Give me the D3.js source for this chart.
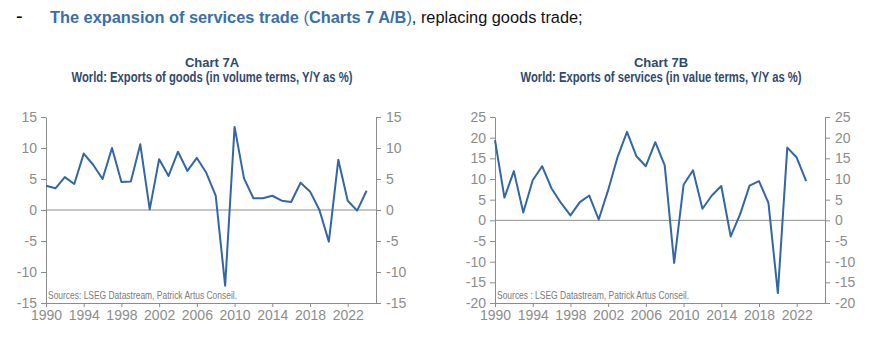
<!DOCTYPE html>
<html>
<head>
<meta charset="utf-8">
<script type="text/javascript" src="https://cdn.jsdelivr.net/npm/d3@7"></script>
<style>
body {
  margin: 0;
  background: white;
}
text {
  font-family: "Liberation Sans Narrow", "Arial Narrow", "Liberation Sans", sans-serif;
}
.axis path, .axis line {
  stroke: #8c8c8c;
}
.axis text {
  fill: #8c8c8c;
  font-size: 14px;
}
</style>
</head>
<body>
<svg width="884" height="346"></svg>
<script>
// chart 7A: exports of goods, volume, y/y %
var yearsA = [1990, 1991, 1992, 1993, 1994, 1995, 1996, 1997, 1998, 1999,
              2000, 2001, 2002, 2003, 2004, 2005, 2006, 2007, 2008, 2009,
              2010, 2011, 2012, 2013, 2014, 2015, 2016, 2017, 2018, 2019,
              2020, 2021, 2022, 2023, 2024];
var goods = [3.9, 3.5, 5.3, 4.2, 9.1, 7.3, 5.0, 10.0, 4.5, 4.6,
             10.6, 0.1, 8.2, 5.5, 9.4, 6.3, 8.4, 6.0, 2.3, -12.2,
             13.4, 5.1, 1.9, 1.9, 2.3, 1.5, 1.3, 4.4, 3.0, 0.0,
             -5.1, 8.1, 1.5, -0.1, 3.1];

// chart 7B: exports of services, value, y/y %
var yearsB = [1990, 1991, 1992, 1993, 1994, 1995, 1996, 1997, 1998, 1999,
              2000, 2001, 2002, 2003, 2004, 2005, 2006, 2007, 2008, 2009,
              2010, 2011, 2012, 2013, 2014, 2015, 2016, 2017, 2018, 2019,
              2020, 2021, 2022, 2023];
var services = [19.4, 5.5, 11.9, 1.9, 9.7, 13.1, 7.7, 4.2, 1.2, 4.4,
                6.0, 0.2, 7.3, 15.3, 21.4, 15.5, 13.1, 18.9, 13.3, -10.3,
                8.6, 12.1, 2.8, 6.0, 8.3, -3.9, 1.5, 8.4, 9.5, 4.2,
                -17.6, 17.6, 15.2, 9.5];

var xTicks = [1990, 1994, 1998, 2002, 2006, 2010, 2014, 2018, 2022];
var yTicksA = [-15, -10, -5, 0, 5, 10, 15];
var yTicksB = [-20, -15, -10, -5, 0, 5, 10, 15, 20, 25];

var svg = d3.select("svg");
// plain hyphen for negatives, like the source chart
var fmt = function(d) { return String(d); };

// header line
svg.append("text")
  .attr("x", 16).attr("y", 23)
  .style("font-size", "20px")
  .text("-");
var head = svg.append("text")
  .attr("x", 50).attr("y", 23)
  .style("font-size", "20px");
head.append("tspan").attr("fill", "#3a6ead").attr("font-weight", "bold")
  .text("The expansion of services trade ");
head.append("tspan").attr("fill", "#3a6ead").text("(");
head.append("tspan").attr("fill", "#3a6ead").attr("font-weight", "bold")
  .text("Charts 7 A/B");
head.append("tspan").attr("fill", "#3a6ead").text(")");
head.append("tspan").attr("fill", "#111").text(", replacing goods trade;");
// size the header so it spans the same width as the original
var headLen = head.node().getComputedTextLength();
head.style("font-size", (20 * 533 / headLen) + "px");

function drawChart(opt) {
  var x = d3.scaleLinear().domain([1990, 2025]).range([opt.left, opt.left + 330]);
  var y = d3.scaleLinear().domain(opt.yDomain).range([303, 117]);
  var cx = opt.left + 166;

  svg.append("text")
    .attr("x", cx).attr("y", 67)
    .attr("text-anchor", "middle")
    .attr("fill", "#2f4a6e")
    .attr("font-weight", "bold")
    .style("font-size", "13px")
    .text(opt.title);
  svg.append("text")
    .attr("x", cx).attr("y", 82)
    .attr("text-anchor", "middle")
    .attr("fill", "#2f4a6e")
    .attr("font-weight", "bold")
    .attr("textLength", 281)
    .attr("lengthAdjust", "spacingAndGlyphs")
    .style("font-size", "14px")
    .text(opt.subtitle);

  // zero line
  svg.append("line")
    .attr("x1", x(1990)).attr("x2", x(2025))
    .attr("y1", y(0)).attr("y2", y(0))
    .attr("stroke", "#8c8c8c");

  svg.append("g")
    .attr("class", "axis")
    .attr("transform", "translate(0,303)")
    .call(d3.axisBottom(x).tickValues(xTicks).tickFormat(fmt)
      .tickSize(4).tickSizeOuter(0).tickPadding(3))
    .call(function(g) { g.select(".domain").attr("d", "M" + x(1990) + ",0.5H" + x(2025)); });
  svg.append("g")
    .attr("class", "axis")
    .attr("transform", "translate(" + x(1990) + ",0)")
    .call(d3.axisLeft(y).tickValues(opt.yTicks).tickFormat(fmt)
      .tickSize(5).tickSizeOuter(0).tickPadding(4));
  svg.append("g")
    .attr("class", "axis")
    .attr("transform", "translate(" + x(2025) + ",0)")
    .call(d3.axisRight(y).tickValues(opt.yTicks).tickFormat(fmt)
      .tickSize(5).tickSizeOuter(0).tickPadding(5));
  svg.selectAll(".axis .tick text").style("font-size", "14px");

  svg.append("text")
    .attr("x", opt.left + 2).attr("y", 299)
    .attr("fill", "#7a7a7a")
    .attr("textLength", opt.srcLen)
    .attr("lengthAdjust", "spacingAndGlyphs")
    .style("font-size", "11px")
    .text(opt.source);

  svg.append("path")
    .datum(opt.years.map(function(d, i) { return [d, opt.values[i]]; }))
    .attr("fill", "none")
    .attr("stroke", "#3266a6")
    .attr("stroke-width", 2)
    .attr("stroke-linejoin", "round")
    .attr("d", d3.line()
      .x(function(d) { return x(d[0]); })
      .y(function(d) { return y(d[1]); }));
}

drawChart({
  left: 46,
  yDomain: [-15, 15],
  yTicks: yTicksA,
  years: yearsA,
  values: goods,
  title: "Chart 7A",
  subtitle: "World: Exports of goods (in volume terms, Y/Y as %)",
  source: "Sources: LSEG Datastream, Patrick Artus Conseil.",
  srcLen: 189
});
drawChart({
  left: 495,
  yDomain: [-20, 25],
  yTicks: yTicksB,
  years: yearsB,
  values: services,
  title: "Chart 7B",
  subtitle: "World: Exports of services (in value terms, Y/Y as %)",
  source: "Sources : LSEG Datastream, Patrick Artus Conseil.",
  srcLen: 192
});
</script>
</body>
</html>
